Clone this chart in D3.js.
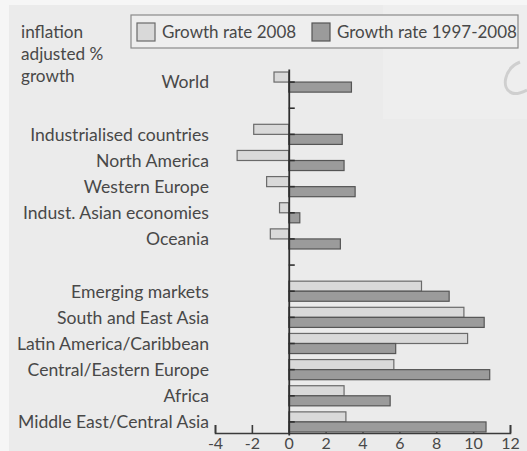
<!DOCTYPE html>
<html>
<head>
<meta charset="utf-8">
<script src="https://cdn.jsdelivr.net/npm/d3@7/dist/d3.min.js"></script>
<style>
  html, body { margin: 0; padding: 0; background: #ffffff; }
  svg { display: block; }
  text { font-family: Lato, "Open Sans", sans-serif; fill: #484848; }
</style>
</head>
<body>
<svg id="chart" width="527" height="451"></svg>
<script>
// Regions in display order; empty strings leave a blank row between groups
const rowOrder = [
  "World", "",
  "Industrialised countries", "North America", "Western Europe",
  "Indust. Asian economies", "Oceania", "",
  "Emerging markets", "South and East Asia", "Latin America/Caribbean",
  "Central/Eastern Europe", "Africa", "Middle East/Central Asia"
];

const categories = [
  "World",
  "Industrialised countries", "North America", "Western Europe",
  "Indust. Asian economies", "Oceania",
  "Emerging markets", "South and East Asia", "Latin America/Caribbean",
  "Central/Eastern Europe", "Africa", "Middle East/Central Asia"
];

// inflation adjusted % growth
const growth2008 = [-0.8, -1.9, -2.8, -1.2, -0.5, -1.0, 7.2, 9.5, 9.7, 5.7, 3.0, 3.1];
const growth1997to2008 = [3.4, 2.9, 3.0, 3.6, 0.6, 2.8, 8.7, 10.6, 5.8, 10.9, 5.5, 10.7];

const seriesNames = ["Growth rate 2008", "Growth rate 1997-2008"];
const xTicks = [-4, -2, 0, 2, 4, 6, 8, 10, 12];
const axisTitle = ["inflation", "adjusted %", "growth"];

const svg = d3.select("#chart");
const W = 527, H = 451;

// paper background
svg.append("rect").attr("x", 0).attr("y", 0).attr("width", W).attr("height", H).attr("fill", "#f6f6f6");
svg.append("rect").attr("x", 9).attr("y", 5).attr("width", W - 9).attr("height", H - 5).attr("fill", "#ebebeb");
svg.append("rect").attr("x", 383).attr("y", 5).attr("width", W - 383).attr("height", 114).attr("fill", "#eeeeee");

// small curl mark in the top-right corner
svg.append("path")
  .attr("d", "M520,62 C505,68 500,88 512,93 C517,95 523,92 527,90")
  .attr("fill", "none").attr("stroke", "#cfcfcf").attr("stroke-width", 3);

const x = d3.scaleLinear().domain([-4, 12]).range([215, 510]);
const y = d3.scaleBand().domain(d3.range(rowOrder.length)).range([69, 435]).padding(0);
const sub = d3.scaleBand().domain([0, 1]).range([0, y.bandwidth()]).paddingInner(0).paddingOuter(0.3);

const fills = ["#d9d9d9", "#9b9b9b"];
const strokes = ["#6a6a6a", "#555555"];

const rows = categories.map((c, i) => ({
  name: c,
  row: rowOrder.indexOf(c),
  values: [growth2008[i], growth1997to2008[i]]
}));

// x axis with upward ticks
const xAxis = d3.axisBottom(x)
  .tickValues(xTicks)
  .tickFormat(d => String(d))
  .tickSize(-8)
  .tickSizeOuter(-8)
  .tickPadding(5);

const gx = svg.append("g").attr("transform", "translate(0,433)").call(xAxis);
gx.select(".domain").attr("stroke", "#3a3a3a").attr("stroke-width", 1.6);
gx.selectAll(".tick line").attr("stroke", "#3a3a3a").attr("stroke-width", 1.6);
gx.selectAll(".tick text")
  .attr("font-family", "Lato, 'Open Sans', sans-serif")
  .attr("font-size", 16)
  .attr("fill", "#484848");

// bars
const barG = svg.append("g");
rows.forEach(r => {
  r.values.forEach((v, k) => {
    barG.append("rect")
      .attr("x", x(Math.min(0, v)))
      .attr("y", y(r.row) + sub(k))
      .attr("width", Math.abs(x(v) - x(0)))
      .attr("height", sub.bandwidth())
      .attr("fill", fills[k])
      .attr("stroke", strokes[k])
      .attr("stroke-width", 1.2);
  });
});

// zero line with a small tick on every row
const yAxis = d3.axisRight(y).tickSize(6).tickSizeOuter(0).tickFormat("");
const gy = svg.append("g").attr("transform", `translate(${x(0)},0)`).call(yAxis);
gy.select(".domain").attr("stroke", "#2f2f2f").attr("stroke-width", 1.8);
gy.selectAll(".tick line").attr("stroke", "#2f2f2f").attr("stroke-width", 1.6);

// category labels
svg.append("g").selectAll("text")
  .data(rows)
  .join("text")
  .attr("x", 209)
  .attr("y", d => y(d.row) + y.bandwidth() / 2)
  .attr("dy", "0.36em")
  .attr("text-anchor", "end")
  .attr("font-size", 17.6)
  .text(d => d.name);

// axis title in the top-left corner
svg.append("g").selectAll("text")
  .data(axisTitle)
  .join("text")
  .attr("x", 21)
  .attr("y", (d, i) => 38 + i * 22)
  .attr("font-size", 17.2)
  .text(d => d);

// legend
const lg = svg.append("g");
lg.append("rect").attr("x", 131).attr("y", 15).attr("width", 387).attr("height", 33)
  .attr("fill", "#eeeeee").attr("stroke", "#8a8a8a").attr("stroke-width", 1.2);
const legendX = [137, 312];
seriesNames.forEach((s, k) => {
  lg.append("rect").attr("x", legendX[k]).attr("y", 23).attr("width", 18).attr("height", 18)
    .attr("fill", fills[k]).attr("stroke", strokes[k]).attr("stroke-width", 1.2);
  lg.append("text").attr("x", legendX[k] + 25).attr("y", 38)
    .attr("font-size", 17).text(s);
});
</script>
</body>
</html>
